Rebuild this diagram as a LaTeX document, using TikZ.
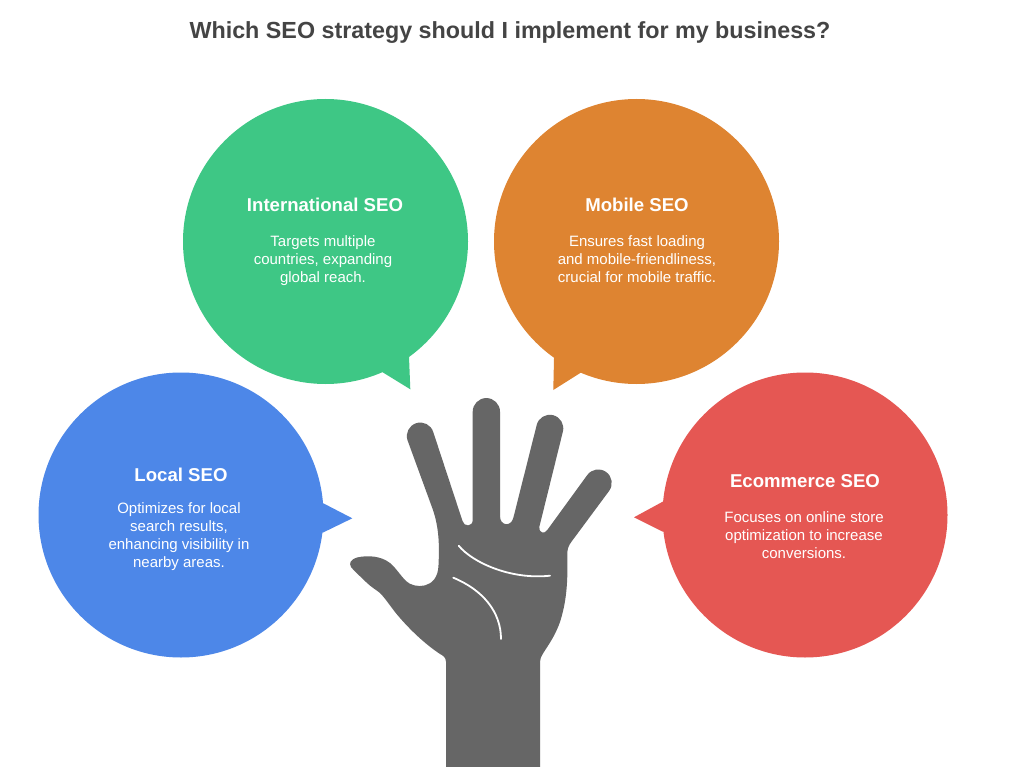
\documentclass[tikz,border=0pt]{standalone}
\usepackage{fontspec}
\setmainfont{Liberation Sans}
\definecolor{cgreen}{HTML}{3EC785}
\definecolor{corange}{HTML}{DE8431}
\definecolor{cblue}{HTML}{4D87E8}
\definecolor{cred}{HTML}{E55753}
\definecolor{cgray}{HTML}{666666}
\definecolor{ctitle}{HTML}{444444}
\tikzset{
 x=1pt,y=-1pt,
 heading/.style={text=white,font=\fontsize{18.6}{20}\selectfont\bfseries,anchor=center,inner sep=0pt},
 body/.style={text=white,font=\fontsize{15}{18}\selectfont,align=center,anchor=center,inner sep=0pt},
 palm/.style={draw=white,line width=1.8pt,line cap=round}
}
\begin{document}
\begin{tikzpicture}
\useasboundingbox (0,0) rectangle (1020,767);
\fill[white] (0,0) rectangle (1020,767);
\node[text=ctitle,font=\fontsize{23.3}{26}\selectfont\bfseries,inner sep=0pt] (title) at (510,32.5) {Which SEO strategy should I implement for my business?};
% bubbles
\fill[cgreen] (325.5,241.5) circle[radius=142.5];
\fill[cgreen] (380,370) -- (382.7,372.3) -- (410.3,389.3) -- (409,356.7) -- (400,350) -- cycle;
\fill[corange] (636.5,241.5) circle[radius=142.5];
\fill[corange] (565,350) -- (554,358.3) -- (553.3,390) -- (580.7,372.7) -- (590,370) -- cycle;
\fill[cblue] (181,515) circle[radius=142.5];
\fill[cblue] (315,503.3) -- (323.3,503.3) -- (352.3,518.3) -- (322.7,532.7) -- (315,532.7) -- cycle;
\fill[cred] (805,515) circle[radius=142.5];
\fill[cred] (670,501.7) -- (662.7,501.7) -- (634,517.3) -- (662.7,531.7) -- (670,531.7) -- cycle;
% texts
\node[heading] (h1) at (325,205) {International SEO};
\node[body] (b1) at (323,260.5) {Targets multiple\\countries, expanding\\global reach.};
\node[heading] (h2) at (637,205) {Mobile SEO};
\node[body] (b2) at (637,259) {Ensures fast loading\\and mobile-friendliness,\\crucial for mobile traffic.};
\node[heading] (h3) at (181,475) {Local SEO};
\node[body] (b3) at (179,536.5) {Optimizes for local\\search results,\\enhancing visibility in\\nearby areas.};
\node[heading] (h4) at (805,481) {Ecommerce SEO};
\node[body] (b4) at (804,535) {Focuses on online store\\optimization to increase\\conversions.};
% hand
\fill[cgray] (446,767) -- (446,661.7)
 .. controls (446,657) and (442,655) .. (440,654)
 .. controls (428,646) and (414,634) .. (400,618)
 .. controls (392,609) and (386,599) .. (380,593)
 .. controls (375,589) and (371,587) .. (366,582)
 .. controls (360,576) and (354,571) .. (351,567)
 .. controls (349,563) and (350,560) .. (357,557.5)
 .. controls (368,555) and (381,556) .. (390,563)
 .. controls (396,568) and (400,575) .. (406,581)
 .. controls (414,589) and (438,590) .. (438.5,565)
 .. controls (439.5,545) and (439,528) .. (433,510)
 -- (407.5,440.2)
 arc[start angle=162,end angle=342,radius=13.5]
 -- (462.5,521)
 .. controls (464,527) and (472.7,527) .. (472.7,520)
 -- (472.7,411.7)
 arc[start angle=180,end angle=360,radius=13.65]
 -- (500,516)
 .. controls (500,526) and (511,527) .. (513.3,518)
 -- (536.7,425)
 arc[start angle=194,end angle=374,radius=13.5]
 -- (539.3,527)
 .. controls (538.5,532) and (544,535) .. (547.3,530)
 -- (587.3,475)
 arc[start angle=216,end angle=396,radius=13.5]
 -- (572,541)
 .. controls (568,546) and (567,550) .. (567.3,556)
 .. controls (568,585) and (566,603) .. (560,622)
 .. controls (555,636) and (549,644) .. (543.3,653)
 .. controls (541,657) and (540,659) .. (540,662)
 -- (540,767) -- cycle;
\draw[palm] (458.7,545.7) .. controls (472,562) and (510,580) .. (550,575.7);
\draw[palm] (453.3,577.7) .. controls (483,590) and (501,612) .. (501,639);
\end{tikzpicture}
\end{document}
